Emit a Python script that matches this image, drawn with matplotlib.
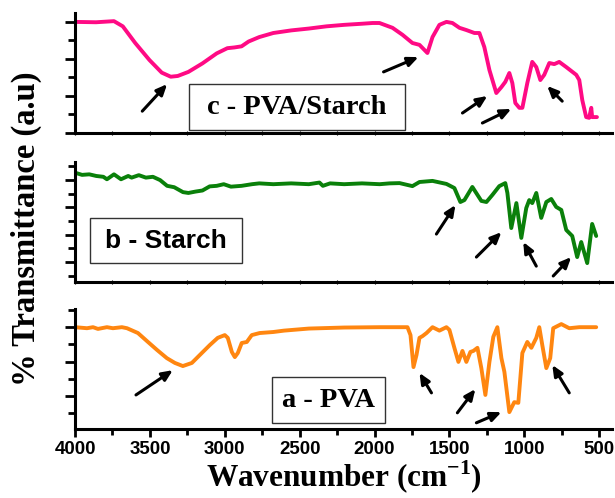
import matplotlib.pyplot as plt
from matplotlib.patches import Rectangle
from matplotlib.ticker import MultipleLocator

plt.rcParams['mathtext.fontset'] = 'custom'
plt.rcParams['mathtext.rm'] = 'Liberation Serif'
plt.rcParams['mathtext.bf'] = 'Liberation Serif:bold'

# c - PVA/Starch
c_wn = [4000, 3860, 3740, 3681, 3598, 3503, 3421, 3361, 3314, 3243, 3149, 3054, 2983, 2936,
        2888, 2841, 2770, 2676, 2557, 2439, 2321, 2203, 2084, 2013, 1967, 1880, 1813, 1747,
        1700, 1647, 1613, 1567, 1520, 1480, 1433, 1387, 1333, 1300, 1267, 1233, 1187, 1153,
        1127, 1100, 1080, 1060, 1033, 1013, 980, 947, 920, 893, 867, 833, 800, 767, 720, 653,
        633, 613, 587, 567, 553, 547, 515]
c_t = [3.0, 2.99, 3.02, 2.88, 2.43, 1.97, 1.63, 1.52, 1.54, 1.65, 1.88, 2.15, 2.29, 2.31,
       2.34, 2.47, 2.59, 2.70, 2.77, 2.82, 2.88, 2.92, 2.95, 2.97, 2.97, 2.84, 2.65, 2.43,
       2.38, 2.16, 2.59, 2.92, 3.0, 2.97, 2.84, 2.78, 2.70, 2.70, 2.32, 1.70, 1.08, 1.24,
       1.38, 1.62, 1.35, 0.81, 0.68, 0.68, 1.35, 1.92, 1.78, 1.43, 1.57, 1.89, 1.86, 1.92,
       1.78, 1.57, 1.43, 0.89, 0.43, 0.41, 0.68, 0.43, 0.43]

# b - Starch
b_wn = [4000, 3953, 3905, 3858, 3811, 3787, 3740, 3693, 3645, 3622, 3574, 3527, 3480, 3432,
        3385, 3338, 3279, 3243, 3196, 3149, 3101, 3054, 3007, 2959, 2888, 2818, 2770, 2676,
        2557, 2439, 2368, 2345, 2297, 2203, 2084, 1966, 1900, 1833, 1747, 1700, 1613, 1520,
        1467, 1427, 1400, 1347, 1287, 1253, 1213, 1167, 1127, 1113, 1087, 1053, 1020, 987,
        967, 947, 920, 887, 853, 820, 787, 753, 720, 680, 647, 620, 580, 547, 520]
b_t = [3.26, 3.18, 3.20, 3.14, 3.11, 3.02, 3.20, 3.02, 3.14, 3.08, 3.17, 3.08, 3.11, 2.99,
       2.78, 2.73, 2.55, 2.52, 2.57, 2.61, 2.76, 2.78, 2.84, 2.75, 2.78, 2.84, 2.87, 2.84,
       2.87, 2.84, 2.90, 2.78, 2.87, 2.84, 2.87, 2.84, 2.87, 2.88, 2.77, 2.92, 2.96, 2.85,
       2.70, 2.19, 2.26, 2.74, 2.23, 2.19, 2.45, 2.77, 2.88, 2.52, 1.24, 2.15, 0.88, 1.97,
       2.26, 2.15, 2.52, 1.61, 2.19, 2.30, 2.01, 1.90, 1.17, 0.95, 0.18, 0.73, -0.04, 1.39,
       0.95]

# a - PVA
a_wn = [4000, 3920, 3880, 3847, 3787, 3747, 3687, 3653, 3580, 3513, 3453, 3387, 3333, 3280,
        3220, 3167, 3100, 3047, 3000, 2980, 2953, 2933, 2913, 2887, 2853, 2820, 2767, 2676,
        2605, 2439, 2203, 1966, 1833, 1780, 1760, 1740, 1720, 1700, 1680, 1653, 1613, 1567,
        1520, 1500, 1467, 1440, 1413, 1387, 1360, 1340, 1313, 1287, 1260, 1233, 1207, 1180,
        1153, 1133, 1100, 1067, 1040, 1013, 980, 953, 920, 900, 880, 853, 827, 807, 753, 700,
        633, 520]
a_t = [3.0, 2.97, 3.0, 2.95, 3.0, 2.97, 3.0, 2.97, 2.83, 2.57, 2.34, 2.10, 1.96, 1.87,
       1.96, 2.19, 2.48, 2.69, 2.77, 2.69, 2.28, 2.13, 2.25, 2.54, 2.57, 2.77, 2.83, 2.86,
       2.90, 2.96, 2.99, 3.0, 3.0, 3.0, 2.77, 1.84, 2.19, 2.69, 2.74, 2.83, 3.0, 2.90,
       3.0, 2.92, 2.40, 1.99, 2.31, 1.99, 2.28, 2.31, 2.40, 1.81, 1.03, 1.99, 2.72, 3.0,
       2.10, 1.70, 0.53, 0.82, 0.80, 2.25, 2.57, 2.40, 2.69, 3.0, 2.48, 1.81, 2.10, 2.97, 3.09, 2.97,
       3.0, 3.0]

# arrows: (tail_wn, tail_t, head_wn, head_t)
c_arrows = [(3551, 0.59, 3385, 1.32), (1940, 1.65, 1707, 2.05), (1413, 0.54, 1247, 1.0),
            (1280, 0.27, 1087, 0.65), (747, 0.86, 847, 1.27)]
b_arrows = [(1587, 1.02, 1460, 2.08), (1320, 0.18, 1153, 1.09), (920, -0.15, 1007, 0.73),
            (807, -0.51, 687, 0.18)]
a_arrows = [(3593, 1.03, 3347, 1.75), (1620, 1.09, 1700, 1.67), (1447, 0.51, 1327, 1.20),
            (1320, 0.22, 1153, 0.53), (700, 1.09, 813, 1.90)]

fig = plt.figure(figsize=(6.15, 4.98), dpi=100)

panels = [
    # data, color, rect, ylim, arrows, label, box, label font, label size
    (c_wn, c_t, '#ff0a84', [0.122, 0.7329, 0.873, 0.2410], (0, 3.24), c_arrows,
     'c - PVA/Starch', (3238, 0.08, 1796, 1.31), 'Liberation Serif', 20.5),
    (b_wn, b_t, '#0a800a', [0.122, 0.4337, 0.873, 0.2410], (-0.73, 3.65), b_arrows,
     'b - Starch', (3901, -0.02, 2884, 1.59), 'Liberation Sans', 19),
    (a_wn, a_t, '#ff8610', [0.122, 0.1386, 0.873, 0.2410], (0.04, 3.53), a_arrows,
     'a - PVA', (2687, 0.21, 1931, 1.54), 'Liberation Serif', 20.5),
]

for i, (wn, t, col, rect, ylim, arrows, label, box, lfont, lsize) in enumerate(panels):
    ax = fig.add_axes(rect)
    ax.plot(wn, t, color=col, lw=2.8, solid_joinstyle='round', solid_capstyle='round')
    ax.set_xlim(4000, 415)
    ax.set_ylim(*ylim)
    for s in ['top', 'right']:
        ax.spines[s].set_visible(False)
    for s in ['left', 'bottom']:
        ax.spines[s].set_linewidth(2.2)
    ax.xaxis.set_major_locator(MultipleLocator(500))
    ax.xaxis.set_minor_locator(MultipleLocator(250))
    ax.yaxis.set_major_locator(MultipleLocator(1))
    ax.yaxis.set_minor_locator(MultipleLocator(0.5))
    ax.tick_params(axis='y', which='major', direction='out', length=7, width=2, labelleft=False)
    ax.tick_params(axis='y', which='minor', direction='out', length=5, width=2)
    if i < 2:
        ax.tick_params(axis='x', which='both', direction='inout', length=3, width=0.8,
                       labelbottom=False)
    else:
        ax.tick_params(axis='x', which='major', direction='out', length=6, width=2, pad=3)
        ax.tick_params(axis='x', which='minor', direction='out', length=4, width=2)
        for lab in ax.get_xticklabels():
            lab.set_fontfamily('Liberation Sans')
            lab.set_fontweight('bold')
            lab.set_fontsize(13.5)
        ax.set_xlabel(r'Wavenumber (cm$^{\mathbf{-1}}$)', fontfamily='Liberation Serif',
                      fontweight='bold', fontsize=22.5, labelpad=0)

    for tw, tt, hw, ht in arrows:
        ax.annotate('', xy=(hw, ht), xytext=(tw, tt),
                    arrowprops=dict(arrowstyle='-|>,head_length=0.45,head_width=0.2',
                                    color='black', lw=2.2, mutation_scale=14,
                                    shrinkA=0, shrinkB=0))

    x0, y0, x1, y1 = box
    ax.add_patch(Rectangle((x0, y0), x1 - x0, y1 - y0, fill=False, ec='#333333', lw=1))
    ax.text((x0 + x1) / 2, (y0 + y1) / 2, label, ha='center', va='center',
            fontfamily=lfont, fontweight='bold', fontsize=lsize)

fig.text(26 / 615, 1 - 229 / 498, '% Transmittance (a.u)', rotation=90, ha='center',
         va='center', fontfamily='Liberation Serif', fontweight='bold', fontsize=23.5)

plt.savefig('out.png', dpi=100)
